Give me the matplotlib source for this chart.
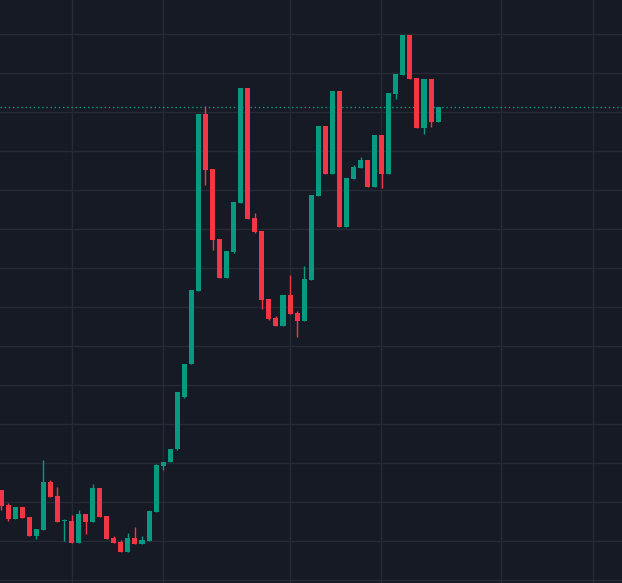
import numpy as np
import matplotlib
matplotlib.use('Agg')
import matplotlib.pyplot as plt

# OHLC values (arbitrary price units)
opens = [93, 78, 64, 76, 66, 47, 53, 101, 87, 62, 62, 40, 69, 61, 95, 67, 45, 41, 31, 45,
         39, 42, 71, 117, 121, 134, 186, 219, 292, 469, 414, 344, 305, 331, 380, 495, 365, 352,
         284, 265, 257, 288, 270, 262, 303, 387, 457, 409, 492, 356, 404, 415, 423, 396, 448,
         409, 489, 508, 548, 505, 455, 504, 461]
highs = [93, 80, 76, 76, 66, 54, 123, 103, 96, 64, 68, 73, 69, 99, 95, 67, 47, 43, 50, 56,
         47, 72, 119, 121, 134, 191, 219, 293, 469, 477, 414, 344, 332, 381, 495, 495, 370, 352,
         284, 267, 288, 308, 272, 317, 388, 457, 457, 492, 492, 405, 418, 426, 423, 448, 448,
         490, 509, 548, 548, 505, 504, 504, 476]
lows = [73, 62, 64, 65, 47, 44, 53, 86, 61, 42, 40, 40, 49, 61, 66, 44, 40, 31, 31, 39,
        39, 42, 71, 113, 121, 133, 185, 219, 292, 398, 333, 305, 305, 330, 380, 364, 350, 274,
        263, 257, 257, 269, 246, 262, 303, 387, 409, 409, 356, 356, 404, 415, 396, 396, 395,
        409, 484, 508, 504, 455, 449, 456, 461]
closes = [77, 64, 76, 65, 47, 54, 101, 86, 61, 62, 40, 69, 61, 95, 66, 44, 40, 31, 45, 39,
          43, 72, 118, 121, 134, 191, 219, 293, 469, 413, 343, 305, 332, 381, 495, 364, 351, 283,
          264, 257, 288, 269, 262, 304, 388, 457, 409, 492, 356, 405, 416, 423, 396, 448, 409,
          490, 509, 548, 504, 455, 504, 461, 476]
last_price = 476

grid_prices = [549, 510, 471, 432, 393, 354, 315, 276, 237, 198, 159, 120, 81, 42, 3]
grid_bars = [10.07, 22.98, 40.99, 53.9, 70.9, 83.97]

bg = '#161a25'
up = '#089981'
down = '#f23645'
step = 7.05  # pixels per bar

fig = plt.figure(figsize=(6.22, 5.83), dpi=100, facecolor=bg)
ax = fig.add_axes([0, 0, 1, 1], facecolor=bg)

for y in grid_prices:
    ax.axhline(y, color='#262a36', lw=1, zorder=0)
for x in grid_bars:
    ax.axvline(x, color='#262a36', lw=1, zorder=0)

for i, (o, h, l, c) in enumerate(zip(opens, highs, lows, closes)):
    col = up if c >= o else down
    ax.vlines(i, l, h, color=col, lw=1, zorder=2)
    bottom = min(o, c)
    height = max(abs(c - o), 1)
    ax.bar(i, height, bottom=bottom, width=0.72, color=col, zorder=3, linewidth=0)

ax.axhline(last_price, color=up, lw=1, ls=(0, (1, 2)), zorder=1)

ax.set_xlim(-1 / step, 621 / step)
ax.set_ylim(0, 583)
ax.axis('off')

fig.savefig('out.png', dpi=100, facecolor=bg)
